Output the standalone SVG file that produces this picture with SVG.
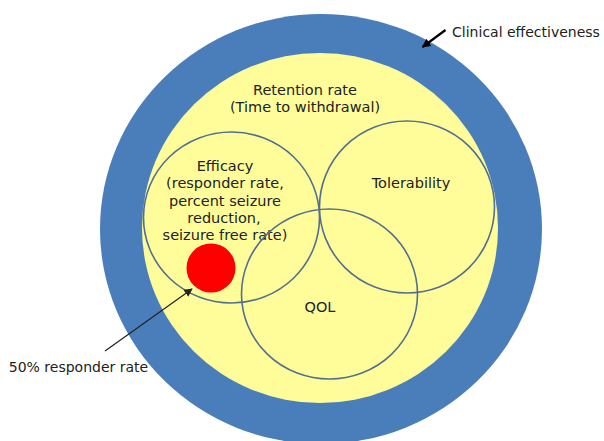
<svg xmlns="http://www.w3.org/2000/svg" width="604" height="441" viewBox="0 0 604 441">
<defs>
<marker id="ah" viewBox="0 0 10 10" refX="9" refY="5" markerWidth="4" markerHeight="4" orient="auto" markerUnits="strokeWidth">
<path d="M0,0 L10,5 L0,10 z" fill="#000"/>
</marker>
<marker id="ah2" viewBox="0 0 10 10" refX="9" refY="5" markerWidth="7" markerHeight="7" orient="auto" markerUnits="strokeWidth">
<path d="M0,0 L10,5 L0,10 z" fill="#222"/>
</marker>
<style>
.t{font-family:"DejaVu Sans","Liberation Sans",sans-serif;font-size:14.5px;fill:#222;text-anchor:middle}
.s{font-size:14px}
.c{fill:none;stroke:#52708f;stroke-width:1.6}
</style>
</defs>
<rect width="604" height="441" fill="#fff"/>
<g id="clinical">
<ellipse cx="321" cy="229" rx="221" ry="215" fill="#4a7ebb"/>
</g>
<g id="retention">
<ellipse cx="320" cy="228" rx="178" ry="175" fill="#fffd9a"/>
<text class="t" x="305" y="95">Retention rate</text>
<text class="t" x="305" y="112">(Time to withdrawal)</text>
</g>
<g id="efficacy">
<ellipse class="c" cx="231.5" cy="217.5" rx="88" ry="85.5"/>
<text class="t" x="225" y="171">Efficacy</text>
<text class="t" x="225" y="188">(responder rate,</text>
<text class="t" x="225" y="205.5">percent seizure</text>
<text class="t" x="224" y="222.5">reduction,</text>
<text class="t" x="225" y="239.5">seizure free rate)</text>
</g>
<g id="tolerability">
<ellipse class="c" cx="407" cy="207" rx="87.5" ry="86"/>
<text class="t" x="411" y="188">Tolerability</text>
</g>
<g id="qol">
<ellipse class="c" cx="329.5" cy="294" rx="88" ry="85"/>
<text class="t" x="320" y="311.5">QOL</text>
</g>
<g id="responder50">
<circle cx="211" cy="268" r="24.5" fill="#ff0000"/>
<text class="t s" x="78.5" y="371.5">50% responder rate</text>
</g>
<g id="label-clinical">
<text class="t s" x="526" y="36.5">Clinical effectiveness</text>
</g>
<g id="connectors">
<line x1="445.5" y1="30" x2="422.5" y2="47" stroke="#000" stroke-width="2.2" marker-end="url(#ah)"/>
<line x1="105" y1="351" x2="192" y2="289" stroke="#222" stroke-width="1.2" marker-end="url(#ah2)"/>
</g>
</svg>
